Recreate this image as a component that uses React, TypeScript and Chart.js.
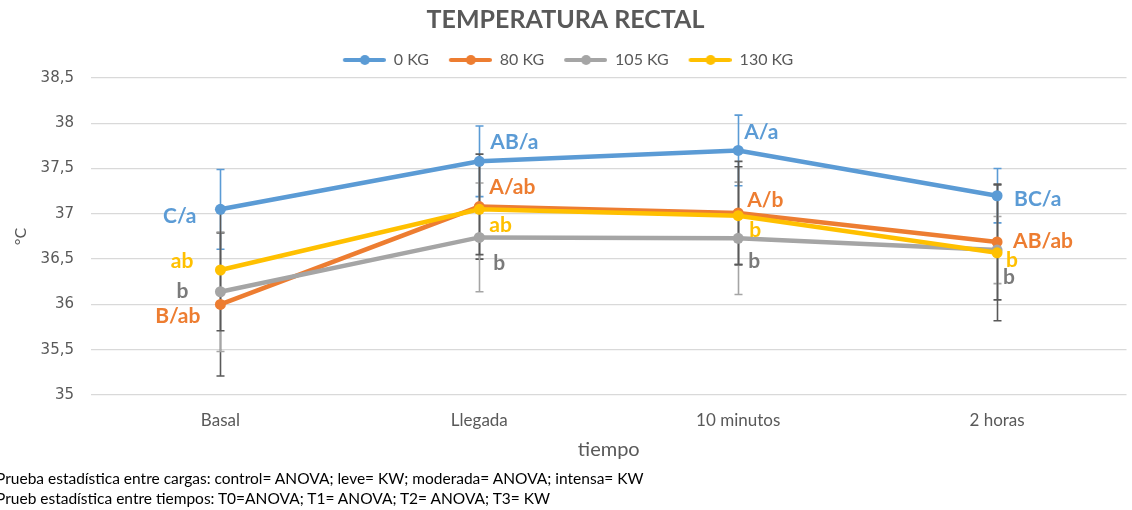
import React, { useEffect, useRef } from "react";
import { Chart, registerables } from "chart.js";

Chart.register(...registerables);

const categories = ["Basal", "Llegada", "10 minutos", "2 horas"];
const seriesNames = ["0 KG", "80 KG", "105 KG", "130 KG"];
const kg0 = [37.05, 37.58, 37.7, 37.2];
const kg80 = [36.0, 37.08, 37.01, 36.69];
const kg105 = [36.14, 36.74, 36.73, 36.6];
const kg130 = [36.38, 37.05, 36.98, 36.57];
const err0 = [0.44, 0.39, 0.39, 0.3];
const err80 = [0.79, 0.58, 0.57, 0.64];
const err105 = [0.66, 0.6, 0.62, 0.37];
const err130 = [0.67, 0.5, 0.54, 0.75];
const lbl0 = ["C/a", "AB/a", "A/a", "BC/a"];
const lbl80 = ["B/ab", "A/ab", "A/b", "AB/ab"];
const lbl105 = ["b", "b", "b", "b"];
const lbl130 = ["ab", "ab", "b", "b"];
const yTicks = [35, 35.5, 36, 36.5, 37, 37.5, 38, 38.5];
const title = "TEMPERATURA RECTAL";
const xTitle = "tiempo";
const yTitle = "°C";
const footer1 = "Prueba estadística entre cargas: control= ANOVA; leve= KW; moderada= ANOVA; intensa= KW";
const footer2 = "Prueb estadística entre tiempos: T0=ANOVA; T1= ANOVA; T2= ANOVA; T3= KW";

const colors = ["#5B9BD5", "#ED7D31", "#A5A5A5", "#FFC000"];
const labelColors = ["#5B9BD5", "#ED7D31", "#7A7A7A", "#FFC000"];
const errColors = ["#5B9BD5", "#595959", "#A5A5A5", "#595959"];

// label placement: [dx, dy, align] per series per category
const labelLayout: [number, number, CanvasTextAlign][][] = [
  [[-24, 7, "right"], [11, -19, "left"], [6, -18, "left"], [17, 3, "left"]],
  [[-20, 12, "right"], [10, -19, "left"], [9, -13, "left"], [16, -1, "left"]],
  [[-32, -1, "right"], [14, 26, "left"], [10, 23, "left"], [6, 27, "left"]],
  [[-27, -9, "right"], [10, 16, "left"], [11, 15, "left"], [9, 7, "left"]],
];

function legendImage(color: string): HTMLCanvasElement {
  const c = document.createElement("canvas");
  c.width = 48;
  c.height = 12;
  const ctx = c.getContext("2d")!;
  ctx.strokeStyle = color;
  ctx.lineWidth = 4;
  ctx.lineCap = "round";
  ctx.beginPath();
  ctx.moveTo(7, 6);
  ctx.lineTo(46, 6);
  ctx.stroke();
  ctx.fillStyle = color;
  ctx.beginPath();
  ctx.arc(27, 6, 5, 0, Math.PI * 2);
  ctx.fill();
  return c;
}

export default function App() {
  const ref = useRef<HTMLCanvasElement>(null);
  useEffect(() => {
    document.body.style.margin = "0";
    const values = [kg0, kg80, kg105, kg130];
    const errs = [err0, err80, err105, err130];
    const lbls = [lbl0, lbl80, lbl105, lbl130];
    const orders = [3, 2, 1, 0];

    const errorBars = {
      id: "errorBars",
      beforeDatasetsDraw(chart: any) {
        const ctx = chart.ctx;
        const ys = chart.scales.y;
        ctx.save();
        ctx.lineWidth = 1.6;
        for (let d = 0; d < values.length; d++) {
          const meta = chart.getDatasetMeta(d);
          ctx.strokeStyle = errColors[d];
          meta.data.forEach((pt: any, i: number) => {
            const x = Math.round(pt.x) + 0.5;
            const top = ys.getPixelForValue(values[d][i] + errs[d][i]);
            const bot = ys.getPixelForValue(values[d][i] - errs[d][i]);
            ctx.beginPath();
            ctx.moveTo(x, top);
            ctx.lineTo(x, bot);
            ctx.moveTo(x - 4, top);
            ctx.lineTo(x + 4, top);
            ctx.moveTo(x - 4, bot);
            ctx.lineTo(x + 4, bot);
            ctx.stroke();
          });
        }
        ctx.restore();
      },
    };

    const pointLabels = {
      id: "pointLabels",
      afterDatasetsDraw(chart: any) {
        const ctx = chart.ctx;
        ctx.save();
        ctx.font = "bold 21px Lato";
        ctx.textBaseline = "middle";
        for (let d = 0; d < lbls.length; d++) {
          const meta = chart.getDatasetMeta(d);
          ctx.fillStyle = labelColors[d];
          meta.data.forEach((pt: any, i: number) => {
            const [dx, dy, align] = labelLayout[d][i];
            ctx.textAlign = align;
            ctx.fillText(lbls[d][i], pt.x + dx, pt.y + dy);
          });
        }
        ctx.restore();
      },
    };

    const chart = new Chart(ref.current!, {
      type: "line",
      data: {
        labels: categories,
        datasets: values.map((v, d) => ({
          label: seriesNames[d],
          data: v,
          borderColor: colors[d],
          backgroundColor: colors[d],
          borderWidth: 4.5,
          pointRadius: 5.5,
          pointBorderWidth: 0,
          pointStyle: "circle",
          tension: 0,
          order: orders[d],
        })),
      },
      options: {
        animation: false,
        responsive: false,
        layout: { padding: { top: 1.8, right: 1, bottom: 45, left: 0 } },
        plugins: {
          title: {
            display: true,
            text: title,
            color: "#595959",
            font: { family: "Lato", size: 25, weight: "bold" },
            padding: { top: 3, bottom: 2.2 },
          },
          legend: {
            display: true,
            labels: {
              usePointStyle: true,
              pointStyleWidth: 48,
              padding: 15,
              color: "#595959",
              font: { family: "Lato", size: 16 },
              sort: (a: any, b: any) => a.datasetIndex - b.datasetIndex,
              generateLabels: (ch: any) =>
                ch.data.datasets.map((ds: any, i: number) => ({
                  text: ds.label,
                  fillStyle: colors[i],
                  strokeStyle: colors[i],
                  lineWidth: 0,
                  pointStyle: legendImage(colors[i]),
                  datasetIndex: i,
                  hidden: false,
                  fontColor: "#595959",
                })),
            },
          },
          tooltip: { enabled: false },
        },
        scales: {
          x: {
            offset: true,
            grid: { display: false, drawTicks: false },
            border: { display: false },
            ticks: {
              color: "#595959",
              font: { family: "Lato", size: 17 },
              padding: 15,
            },
            title: {
              display: true,
              text: xTitle,
              color: "#595959",
              font: { family: "Lato", size: 20 },
              padding: { top: 0, bottom: 3 },
            },
            afterFit: (s: any) => {
              s.height = 70;
            },
          },
          y: {
            min: 35,
            max: 38.5,
            afterBuildTicks: (s: any) => {
              s.ticks = yTicks.map((v) => ({ value: v }));
            },
            grid: { color: "#D9D9D9", lineWidth: 1.3, drawTicks: false },
            border: { display: false },
            ticks: {
              color: "#595959",
              font: { family: "DejaVu Sans", size: 15 },
              padding: 17,
              callback: (v: any) => String(v).replace(".", ","),
            },
            title: {
              display: true,
              text: yTitle,
              color: "#595959",
              font: { family: "Lato", size: 16 },
              padding: { top: 11, bottom: 0 },
            },
            afterFit: (s: any) => {
              s.width = 91;
            },
          },
        },
      },
      plugins: [errorBars, pointLabels],
    });
    return () => chart.destroy();
  }, []);

  const footStyle: React.CSSProperties = {
    position: "absolute",
    left: -4,
    fontFamily: "Lato",
    fontSize: 15.5,
    color: "#000",
    whiteSpace: "nowrap",
    lineHeight: "20px",
  };

  return (
    <div style={{ position: "relative", width: 1132, height: 510, overflow: "hidden", background: "#fff" }}>
      <canvas ref={ref} width={1132} height={510} style={{ position: "absolute", left: 0, top: 0 }} />
      <div style={{ ...footStyle, top: 468 }}>{footer1}</div>
      <div style={{ ...footStyle, top: 488 }}>{footer2}</div>
    </div>
  );
}
